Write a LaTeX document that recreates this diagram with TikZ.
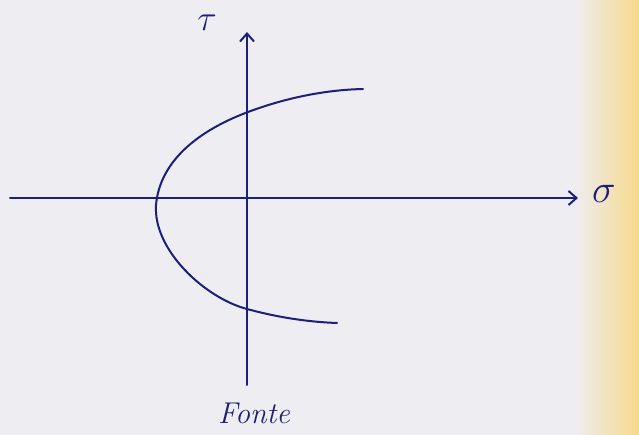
\documentclass[tikz,border=0pt]{standalone}
\usetikzlibrary{arrows.meta}
\definecolor{ink}{HTML}{1E1F78}
\definecolor{paper}{HTML}{EEEDF1}
\definecolor{paperyellow}{HTML}{F6D98A}
\begin{document}
\begin{tikzpicture}[x=1pt,y=-1pt,
  pen/.style={draw=ink,line width=2pt,line cap=round},
  axis/.style={pen,-{Straight Barb[length=8pt,width=14pt,line width=2pt]}},
  lbl/.style={text=ink,inner sep=0pt}]
\useasboundingbox (0,0) rectangle (639,435);
\fill[paper] (0,0) rectangle (639,435);
\shade[left color=paper,right color=paperyellow] (575,0) rectangle (639,435);
% axes
\coordinate (hL) at (10,198);
\coordinate (hR) at (578,198);
\coordinate (vB) at (247,385);
\coordinate (vT) at (247,32);
\draw[axis] (hL) -- (hR);
\draw[axis] (vB) -- (vT);
% parabola
\draw[pen] (363,89) .. controls (320,90) and (280,100) .. (248,112)
  .. controls (200,130) and (160,160) .. (156,205)
  .. controls (153,250) and (205,298) .. (247,309)
  .. controls (280,318) and (310,322) .. (337,323);
% labels
\node[lbl,font=\Huge,scale=1.45] (tau) at (207,23) {$\tau$};
\node[lbl,font=\Huge,scale=1.6] (sig) at (604,194) {$\sigma$};
\node[lbl,font=\huge\itshape,scale=1.45] (fonte) at (254,413) {Fonte};
\end{tikzpicture}
\end{document}
